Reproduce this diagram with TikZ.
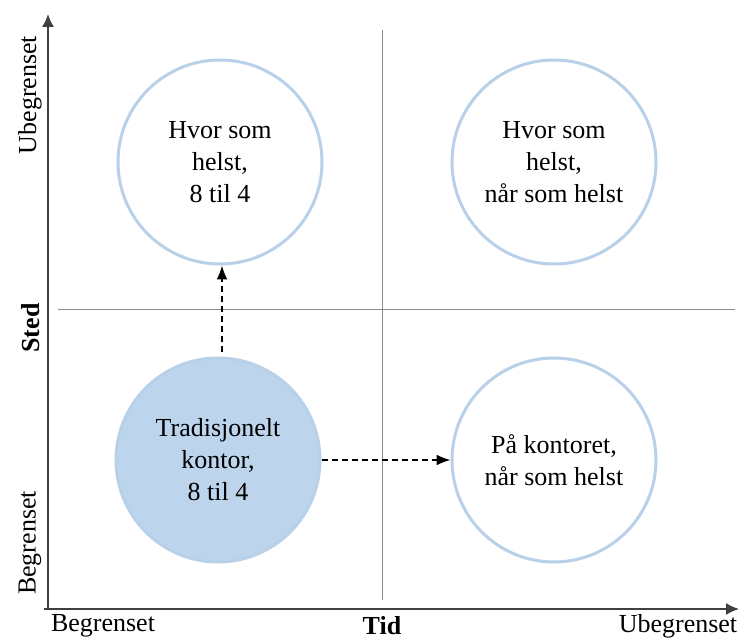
\documentclass[tikz,border=0pt]{standalone}
\usepackage{fontspec}
\setmainfont{Liberation Serif}
\usepackage{tikz}
\usetikzlibrary{arrows.meta}
\usetikzlibrary{positioning}
\definecolor{lysblaa}{RGB}{188,212,236}
\definecolor{kantblaa}{RGB}{184,208,232}
\tikzset{
	felt/.style={circle, draw=kantblaa, line width=1.5pt, minimum size=102pt,
		align=center, font=\fontsize{13}{16}\selectfont},
	aktiv/.style={felt, fill=lysblaa},
	akse/.style={draw=black!75, line width=0.8pt, -{Latex[length=6.5pt,width=6pt]}},
	skille/.style={draw=black!45, line width=0.5pt},
	flytt/.style={draw=black, line width=0.8pt, densely dashed, -{Latex[length=7pt,width=5.5pt]}},
	aksetekst/.style={font=\fontsize{13}{15}\selectfont},
}
\begin{document}
\begin{tikzpicture}[x=0.5pt, y=-0.5pt]
	\useasboundingbox (0,0) rectangle (739,641);
	% akser og skillelinjer
	\coordinate (origo) at (48,609);
	\coordinate (ytopp) at (48,14);
	\coordinate (xende) at (739,609);
	\draw[skille] (382,30) -- (382,600);
	\draw[skille] (58,310) -- (735,310);
	\draw[akse] (origo) -- (ytopp);
	\draw[akse] (44,609) -- (xende);
	% feltene
	\node[felt] (stedfri) at (220,162) {Hvor som\\helst,\\8 til 4};
	\node[felt] (alltfri) at (554,162) {Hvor som\\helst,\\når som helst};
	\node[aktiv] (tradisjonelt) at (218,460) {Tradisjonelt\\kontor,\\8 til 4};
	\node[felt] (tidfri) at (554,460) {På kontoret,\\når som helst};
	% overganger
	\draw[flytt] (tradisjonelt.north -| 222,0) ++(0,-4) -- (stedfri.south -| 222,0);
	\draw[flytt] (tradisjonelt.east) -- (tidfri.west);
	% aksetekster
	\node[aksetekst, rotate=90] (ubegY) at (30,95) {Ubegrenset};
	\node[aksetekst, rotate=90, font=\fontsize{13}{15}\selectfont\bfseries] (sted) at (31,328) {Sted};
	\node[aksetekst, rotate=90] (begY) at (30,543) {Begrenset};
	\node[aksetekst] (begX) at (103,626) {Begrenset};
	\node[aksetekst, font=\fontsize{13}{15}\selectfont\bfseries] (tid) at (382,626) {Tid};
	\node[aksetekst] (ubegX) at (678,626) {Ubegrenset};
\end{tikzpicture}
\end{document}
